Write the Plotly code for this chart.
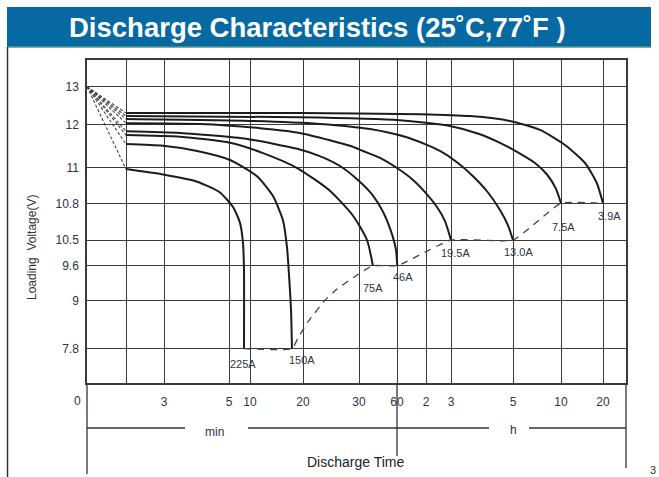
import numpy as np
import plotly.graph_objects as go

# ---------------- data ----------------
x_tick_minutes = [0, 1, 3, 5, 10, 20, 30, 60, 120, 180, 300, 600, 1200]
x_tick_labels = ["0", "", "3", "5", "10", "20", "30", "60", "2", "3", "5", "10", "20"]
y_tick_volts = [13, 12, 11, 10.8, 10.5, 9.6, 9, 7.8]
y_tick_labels = ["13", "12", "11", "10.8", "10.5", "9.6", "9", "7.8"]

start_voltage = 13.0

curve_names = ["3.9A", "7.5A", "13.0A", "19.5A", "46A", "75A", "150A", "225A"]

t_3_9 = [1, 19.4, 107.6, 216.8, 294.2, 468.8, 657, 943, 1114, 1200]
v_3_9 = [12.30, 12.30, 12.27, 12.22, 12.09, 11.87, 11.52, 11.10, 10.91, 10.80]

t_7_5 = [1, 19.4, 66.2, 177.6, 236.1, 274.8, 325, 437.5, 512.5, 568.8, 600]
v_7_5 = [12.22, 12.19, 12.11, 11.96, 11.77, 11.57, 11.36, 11.10, 10.96, 10.88, 10.80]

t_13_0 = [1, 10, 23.0, 38.7, 76.6, 117.9, 153.6, 193.5, 222.6, 251.6, 274.8, 290.3, 300]
v_13_0 = [12.14, 12.09, 12.01, 11.89, 11.71, 11.54, 11.38, 11.10, 10.95, 10.86, 10.745, 10.62, 10.5]

t_19_5 = [1, 4.1, 11.9, 19.4, 24.8, 28.4, 33.2, 46.6, 60, 93.1, 122.4, 146.4, 165.6, 180]
v_19_5 = [12.03, 12.01, 11.91, 11.80, 11.63, 11.50, 11.38, 11.22, 10.996, 10.93, 10.85, 10.77, 10.655, 10.5]

t_46 = [1, 3.5, 9.3, 18.9, 23.0, 26.6, 29.8, 40.3, 49.0, 55.3, 59.2, 60.5]
v_46 = [11.84, 11.80, 11.66, 11.43, 11.26, 11.03, 10.93, 10.85, 10.73, 10.57, 10.15, 9.6]

t_75 = [1, 3.5, 5.24, 12.45, 18.9, 24.8, 28.9, 36.3, 41.0]
v_75 = [11.75, 11.71, 11.57, 11.33, 10.996, 10.87, 10.70, 10.5, 9.6]

t_150 = [1, 2.95, 4.02, 5.24, 11.32, 14.34, 16.23, 16.98, 17.36, 17.74, 17.92]
v_150 = [11.54, 11.50, 11.38, 11.17, 10.95, 10.84, 10.66, 10.25, 9.44, 8.77, 7.8]

t_225 = [1, 2.95, 4.02, 4.72, 5.95, 7.62, 8.33, 8.57, 8.57]
v_225 = [10.99, 10.96, 10.92, 10.86, 10.77, 10.64, 10.39, 9.53, 7.8]

cutoff_t = [8.57, 17.92, 19.06, 20.89, 23.93, 26.07, 29.64, 41.0, 60.5, 180, 300, 600, 1200]
cutoff_v = [7.8, 7.8, 8.07, 8.47, 9.01, 9.20, 9.44, 9.6, 9.6, 10.5, 10.5, 10.8, 10.8]

curves_t = [t_3_9, t_7_5, t_13_0, t_19_5, t_46, t_75, t_150, t_225]
curves_v = [v_3_9, v_7_5, v_13_0, v_19_5, v_46, v_75, v_150, v_225]

# ---------------- layout scale (chart's own non-uniform axes) ----------------
x_tick_pos = [0, 39, 77, 142, 163, 216, 272, 310, 339, 364, 426, 474, 516]
x_range = [0, 539]
y_tick_pos = [26.7, 64.3, 107.3, 143.3, 180, 205.7, 240.7, 288.7]
y_range = [323, 0]


def xs(t):
    return list(np.interp(t, x_tick_minutes, x_tick_pos))


def ys(v):
    return list(np.interp(v, y_tick_volts[::-1], y_tick_pos[::-1]))


W, H = 659, 477
ML, MR, MT, MB = 87, 33, 60, 94
PW, PH = W - ML - MR, H - MT - MB


def px(x):
    return (x - ML) / PW


def py(y):
    return (H - MB - y) / PH


fig = go.Figure()

line_col = "#1c1c1c"
grid_col = "#3a3a3a"
txt_col = "#2e3440"
font_n = "Liberation Sans, Arial, sans-serif"

# fan lines from the initial 13 V point
for t, v in zip(curves_t, curves_v):
    fig.add_trace(go.Scatter(
        x=xs([0, t[0]]), y=ys([start_voltage, v[0]]), mode="lines",
        line=dict(color="#444444", width=1.1, dash="3px,2px"),
        hoverinfo="skip", showlegend=False))

# discharge curves
for name, t, v in zip(curve_names, curves_t, curves_v):
    fig.add_trace(go.Scatter(
        x=xs(t), y=ys(v), mode="lines", name=name,
        line=dict(color=line_col, width=2, shape="spline", smoothing=0.6),
        showlegend=False))

# end-voltage dashed line
fig.add_trace(go.Scatter(
    x=xs(cutoff_t), y=ys(cutoff_v), mode="lines",
    line=dict(color="#444444", width=1.3, dash="7px,6px", shape="spline", smoothing=0.4),
    hoverinfo="skip", showlegend=False))


def ann(x, y, text, size, color=txt_col, **kw):
    d = dict(x=px(x), y=py(y), xref="paper", yref="paper", text=text, showarrow=False,
             xanchor="center", yanchor="middle", font=dict(family=font_n, size=size, color=color))
    d.update(kw)
    return d


# curve labels
label_offsets = [(6, -13), (2, -24), (5, -12), (4, -13), (6, -11), (0, -22), (10, -11), (-1, -15)]
annotations = []
for name, t, v, (dx, dy) in zip(curve_names, curves_t, curves_v, label_offsets):
    annotations.append(dict(
        x=xs([t[-1]])[0], y=ys([v[-1]])[0], xref="x", yref="y", text=name,
        showarrow=False, xshift=dx, yshift=dy, xanchor="center", yanchor="middle",
        font=dict(family=font_n, size=11, color=txt_col)))

annotations.append(ann(77, 401, "0", 12))
annotations.append(ann(214, 432, "min", 12))
annotations.append(ann(513, 430, "h", 12))
annotations.append(ann(355, 462, "Discharge Time", 14, color="#222222"))
annotations.append(ann(32, 248, "Loading  Voltage(V)", 12, color="#333333", textangle=-90))
annotations.append(ann(317, 28, "<b>Discharge Characteristics (25˚C,77˚F )</b>", 27.5, color="white"))
annotations.append(ann(658, 470, "3", 11, color="#333333", xanchor="right"))

shapes = []
# title banner
shapes.append(dict(type="rect", xref="paper", yref="paper", x0=px(7), x1=px(651), y0=py(47), y1=py(7),
                   fillcolor="#0769a1", line=dict(width=0), layer="below"))
shapes.append(dict(type="line", xref="paper", yref="paper", x0=px(7), x1=px(651), y0=py(47), y1=py(47),
                   line=dict(color="#4b9a8c", width=1.5)))
# left page border
shapes.append(dict(type="line", xref="paper", yref="paper", x0=px(7.5), x1=px(7.5), y0=py(47), y1=py(477),
                   line=dict(color="#333333", width=1.5)))
# lower frame lines
for x0, x1 in [(87, 185), (248, 489), (529, 626)]:
    shapes.append(dict(type="line", xref="paper", yref="paper", x0=px(x0), x1=px(x1), y0=py(428), y1=py(428),
                       line=dict(color="#333333", width=1.3)))
shapes.append(dict(type="line", xref="paper", yref="paper", x0=px(87), x1=px(87), y0=py(383), y1=py(474),
                   line=dict(color="#333333", width=1.3)))
shapes.append(dict(type="line", xref="paper", yref="paper", x0=px(626), x1=px(626), y0=py(383), y1=py(468),
                   line=dict(color="#333333", width=1.3)))
shapes.append(dict(type="line", xref="paper", yref="paper", x0=px(397), x1=px(397), y0=py(383), y1=py(456),
                   line=dict(color="#333333", width=1.3)))

fig.update_layout(
    width=W, height=H,
    margin=dict(l=ML, r=MR, t=MT, b=MB, pad=0),
    paper_bgcolor="white", plot_bgcolor="white",
    showlegend=False,
    annotations=annotations, shapes=shapes,
    xaxis=dict(range=x_range, tickmode="array", tickvals=x_tick_pos,
               ticktext=["" if s == "0" else s for s in x_tick_labels],
               showgrid=True, gridcolor=grid_col, gridwidth=1.3,
               showline=True, mirror=True, linecolor=grid_col, linewidth=1.5,
               zeroline=False, ticks="", ticklabelstandoff=7, automargin=False,
               tickfont=dict(family=font_n, size=12, color=txt_col)),
    yaxis=dict(range=y_range, tickmode="array", tickvals=y_tick_pos, ticktext=y_tick_labels,
               showgrid=True, gridcolor=grid_col, gridwidth=1.3,
               showline=True, mirror=True, linecolor=grid_col, linewidth=1.5,
               zeroline=False, ticks="", ticklabelstandoff=4, automargin=False,
               tickfont=dict(family=font_n, size=12, color=txt_col)),
)

fig.write_html("out.html",
               config={"displayModeBar": False},
               post_script="document.body.style.margin='0';document.body.style.overflow='hidden';")
